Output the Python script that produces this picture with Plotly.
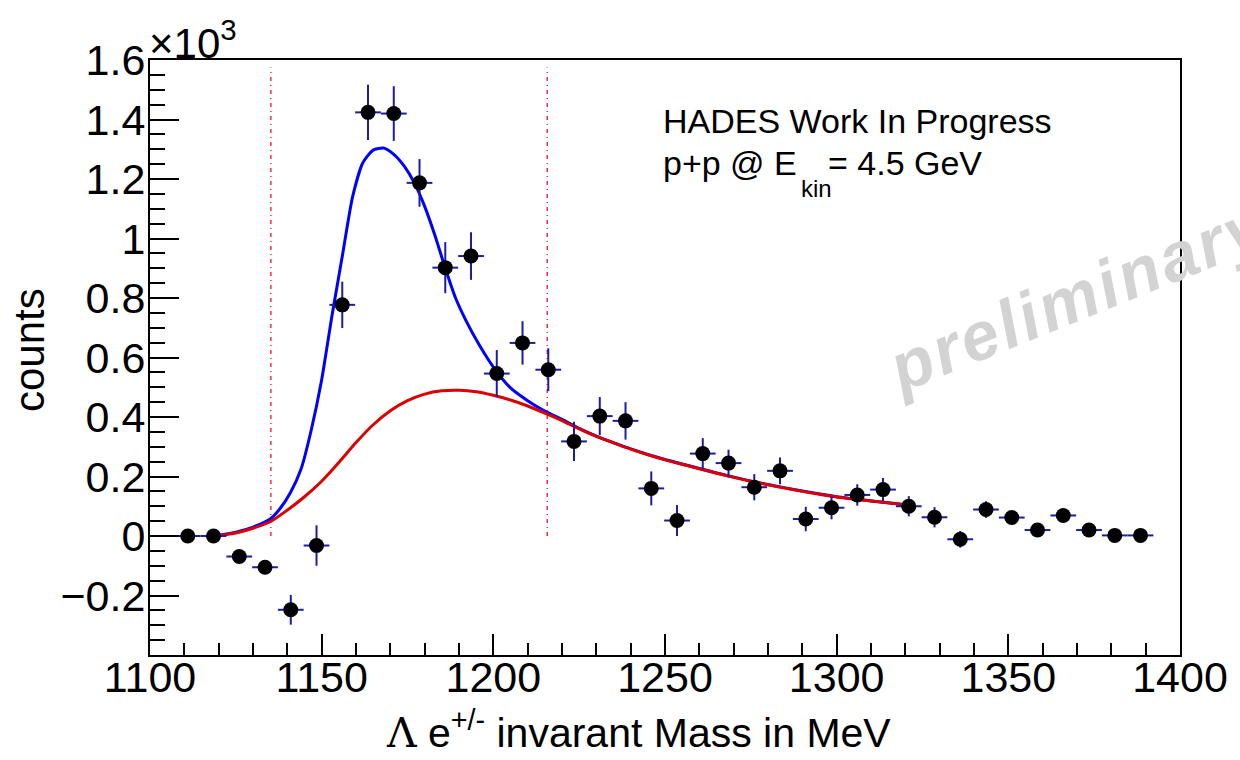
import plotly.graph_objects as go

# ---- data ----
mass = [1111.0, 1118.5, 1126.0, 1133.5, 1141.0, 1148.5, 1156.0, 1163.5, 1171.0, 1178.5,
        1186.0, 1193.5, 1201.0, 1208.5, 1216.0, 1223.5, 1231.0, 1238.5, 1246.0, 1253.5,
        1261.0, 1268.5, 1276.0, 1283.5, 1291.0, 1298.5, 1306.0, 1313.5, 1321.0, 1328.5,
        1336.0, 1343.5, 1351.0, 1358.5, 1366.0, 1373.5, 1381.0, 1388.5]
counts = [0, 0, -69, -105, -248, -32, 777, 1424, 1420, 1187,
          902, 941, 546, 649, 559, 318, 403, 387, 160, 52,
          277, 245, 164, 219, 57, 95, 138, 156, 100, 63,
          -11, 89, 62, 20, 69, 20, 2, 2]
count_err = [0, 0, 15, 20, 50, 68, 78, 93, 92, 80,
             86, 80, 79, 73, 72, 66, 64, 63, 57, 52,
             52, 45, 44, 45, 41, 39, 36, 39, 34, 34,
             28, 28, 22, 18, 20, 16, 8, 8]
bin_half_width = [3.75] * len(mass)

total_fit_x = [1120, 1125, 1130, 1135, 1138, 1141, 1144, 1147, 1150, 1153,
               1156, 1159, 1162, 1165, 1168, 1171, 1174, 1177, 1180, 1183,
               1186, 1189, 1192, 1196, 1200, 1205, 1210, 1215, 1220, 1225,
               1230, 1235, 1240, 1250, 1260, 1270, 1280, 1290, 1300, 1310, 1320]
total_fit_y = [3, 13, 30, 57, 94, 148, 225, 358, 525, 740,
               940, 1140, 1255, 1297, 1304, 1283, 1244, 1187, 1108, 1010,
               900, 800, 725, 640, 568, 498, 455, 420, 392, 362,
               336, 314, 293, 257, 227, 198, 173, 151, 132, 118, 105]

bkg_fit_x = [1120, 1125, 1130, 1135, 1140, 1145, 1150, 1155, 1160, 1165,
             1170, 1175, 1180, 1185, 1190, 1195, 1200, 1205, 1210, 1215,
             1220, 1225, 1230, 1235, 1240, 1245, 1250, 1255, 1260, 1265,
             1270, 1275, 1280, 1285, 1290, 1295, 1300, 1305, 1310, 1315, 1320]
bkg_fit_y = [1, 10, 26, 48, 87, 132, 184, 247, 314, 374,
             421, 455, 477, 488, 490, 485, 473, 457, 437, 413,
             388, 360, 335, 313, 292, 273, 256, 241, 226, 211,
             197, 184, 172, 161, 150, 140, 131, 124, 118, 112, 105]

cut_x = [1135.2, 1215.7]
cut_y = [0, 1575]

x_tickvals = [1100, 1150, 1200, 1250, 1300, 1350, 1400]
y_tickvals = [-200, 0, 200, 400, 600, 800, 1000, 1200, 1400, 1600]
y_ticktext = ["\u22120.2", "0", "0.2", "0.4", "0.6", "0.8", "1", "1.2", "1.4", "1.6"]

# ---- figure ----
W, H = 1240, 760
ML, MR, MT, MB = 150, 51, 60, 105
PW, PH = W - ML - MR, H - MT - MB
FONT = "Liberation Sans, Arial, Helvetica, sans-serif"


def px(xp):
    return (xp - ML) / PW


def py(yp):
    return (H - MB - yp) / PH


fig = go.Figure()

for cx in cut_x:
    fig.add_trace(go.Scatter(x=[cx, cx], y=cut_y, mode="lines",
                             line=dict(color="#ff2a4a", width=1.5, dash="4px,4px,1px,4px"),
                             hoverinfo="skip", showlegend=False))

fig.add_trace(go.Scatter(x=total_fit_x, y=total_fit_y, mode="lines",
                         line=dict(color="#0000ff", width=3, shape="spline", smoothing=0.6),
                         showlegend=False))
fig.add_trace(go.Scatter(x=bkg_fit_x, y=bkg_fit_y, mode="lines",
                         line=dict(color="#dd0000", width=3, shape="spline", smoothing=0.6),
                         showlegend=False))

fig.add_trace(go.Scatter(
    x=mass, y=counts, mode="markers",
    marker=dict(color="black", size=15, symbol="circle"),
    error_y=dict(type="data", array=count_err, visible=True, color="#1c1caa",
                 thickness=2, width=0),
    error_x=dict(type="data", array=bin_half_width, visible=True, color="#1c1caa",
                 thickness=2, width=0),
    showlegend=False))

axis_common = dict(showline=True, linecolor="black", linewidth=2, mirror=True,
                   showgrid=False, zeroline=False, ticks="inside", tickcolor="black",
                   tickwidth=2, tickfont=dict(family=FONT, size=43, color="black"))

fig.update_xaxes(range=[1100, 1400], tickvals=x_tickvals, ticklen=21,
                 ticklabelstandoff=-17,
                 minor=dict(dtick=10, tick0=1100, ticklen=12, ticks="inside",
                            tickcolor="black", tickwidth=1.5),
                 **axis_common)
fig.update_yaxes(range=[-400, 1600], tickvals=y_tickvals, ticktext=y_ticktext,
                 ticklen=29, ticklabelstandoff=-6,
                 minor=dict(dtick=50, tick0=0, ticklen=15, ticks="inside",
                            tickcolor="black", tickwidth=1.5),
                 **axis_common)

annotations = [
    dict(text="\u00d710<sup>3</sup>", x=px(147), y=py(40), xanchor="left", yanchor="middle",
         font=dict(family=FONT, size=42, color="black")),
    dict(text="HADES Work In Progress", x=px(665), y=py(121), xanchor="left", yanchor="middle",
         font=dict(family=FONT, size=34, color="black")),
    dict(text="p+p @ E", x=px(665), y=py(163), xanchor="left",
         yanchor="middle", font=dict(family=FONT, size=34, color="black")),
    dict(text="kin", x=px(805), y=py(188), xanchor="left",
         yanchor="middle", font=dict(family=FONT, size=24, color="black")),
    dict(text="= 4.5 GeV", x=px(832), y=py(163), xanchor="left",
         yanchor="middle", font=dict(family=FONT, size=34, color="black")),
    dict(text="counts", x=px(28), y=py(350), xanchor="center", yanchor="middle",
         textangle=-90, font=dict(family=FONT, size=42, color="black")),
    dict(text="<span style='font-family:DejaVu Serif, serif'>\u039b</span> e<sup>+/-</sup> invarant Mass in MeV",
         x=px(643), y=py(730), xanchor="center", yanchor="middle",
         font=dict(family=FONT, size=41, color="black")),
    dict(text="<span style='letter-spacing:3px'>preliminary</span>", x=px(1085), y=py(296),
         xanchor="center", yanchor="middle",
         textangle=-22, font=dict(family=FONT, size=68, color="#d3d3d3",
                                  weight="bold", style="italic")),
]
for a in annotations:
    a.update(xref="paper", yref="paper", showarrow=False)

fig.update_layout(width=W, height=H, margin=dict(l=ML, r=MR, t=MT, b=MB),
                  plot_bgcolor="white", paper_bgcolor="white",
                  annotations=annotations, showlegend=False)

fig.write_html("out.html")
